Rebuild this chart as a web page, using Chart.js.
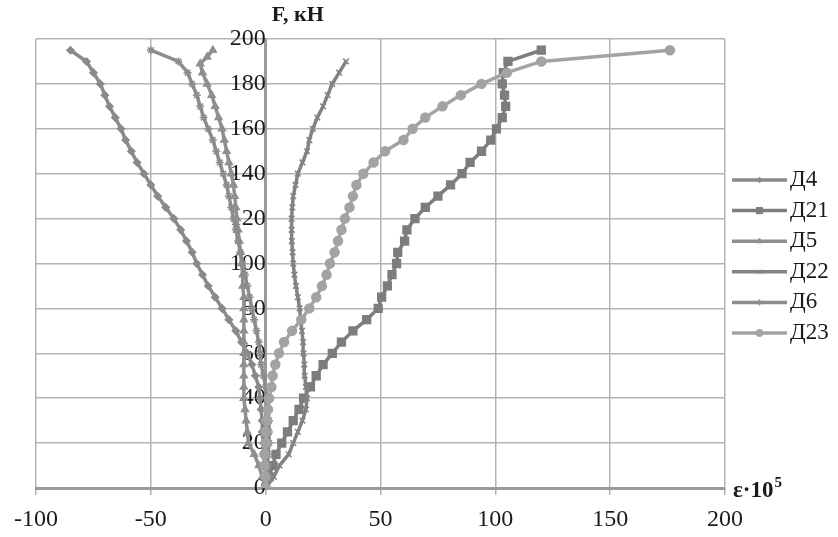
<!DOCTYPE html>
<html><head><meta charset="utf-8">
<script src="https://cdn.jsdelivr.net/npm/chart.js@4/dist/chart.umd.min.js"></script>
<style>html,body{margin:0;padding:0;background:#fff}#wrap{width:838px;height:537px}</style>
</head><body><div id="wrap"><canvas id="c" width="838" height="537"></canvas></div>
<script>
// ---- data (strain ε·10^5 on x, load F, кН on y) ----
const seriesNames = ['Д4', 'Д21', 'Д5', 'Д22', 'Д6', 'Д23'];
const xTickValues = [-100, -50, 0, 50, 100, 150, 200];
const yTickValues = [0, 20, 40, 60, 80, 100, 120, 140, 160, 180, 200];
const yTitle = 'F, кН';
const xTitleMain = 'ε·10';
const xTitleSup = '5';

const loadsFull = [0,5,10,15,20,25,30,35,40,45,50,55,60,65,70,75,80,85,90,95,100,105,110,115,120,125,130,135,140,145,150,155,160,165,170,175,180,185,190,195];
const loadsD22 = [0,5,10,15,20,25,30,35,40,45,50,55,60,65,70,75,80,85,90,95,100,105,110,115,120,125,130,135,140,145,150,155,160,165,170,175,180,185,190];
const loadsD5 = [0,5,10,15,20,25,30,35,40,45,50,55,60,65,70,75,80,85,90,95,100,105,110,115,120,125,130,135,140,145,150,155,160,165,170,175,180,185,189,192,195];

const strainD4 = [0,0,-0.5,-1,-1,-1.5,-1.5,-2,-2.5,-3,-4.5,-6,-8,-10.5,-13,-16,-19,-22,-25,-27.5,-30,-32,-34.5,-37,-40,-43.5,-47,-50,-53,-56,-58.5,-61,-63,-65.5,-68,-70,-72,-75,-78,-85];
const strainD21 = [0,1.5,3,4.5,7,9.5,12,14.5,16.5,19.5,22,25,29,33,38,44,49,50.5,53,55,57,57.5,60.5,61.5,65,69.5,75,80.5,85.5,89,94,98,100.5,103,104.5,104,103,103.5,105.5,120];
const strainD5 = [0,-1.5,-3,-5,-7.5,-8,-8.5,-9,-9.5,-9.5,-9.5,-9.5,-9.5,-9.5,-9.5,-9.5,-9.5,-9.5,-10,-10,-10.5,-11,-11.5,-12,-12.5,-13,-13.5,-14,-15,-16,-17,-18,-19,-20.5,-22,-23.5,-25.5,-27.5,-28.5,-25.5,-23];
const strainD22 = [0,3.5,6,10,12,14,16,17.5,18,17.5,17,16.8,16.5,16.3,15.8,15.2,14.8,14,13.2,12.5,12,11.7,11.4,11.3,11.3,11.6,12,13,14,16,18,19,20.5,22.5,25,27,29,32,35];
const strainD6 = [0,0.5,1,1,1.5,1.5,1.5,1,0.5,0,-1,-2,-2.5,-3,-4,-5,-6,-7,-8,-9,-10,-11,-12,-13,-14,-15,-16,-17,-18.5,-20,-21.5,-23,-25,-27,-28.5,-30,-32,-34,-38,-50];
const strainD23 = [0,0,-0.5,-0.5,0,0,0.5,1,1.5,2.5,3,4.2,5.8,8,11.5,15.5,19,22,24.5,26.5,28,30,31.5,33,34.5,36.5,38,39.5,42.5,47,52,60,64,69.5,77,85,94,105,120,176];

const toPoints = (xs, ys) => xs.map((v, i) => ({x: v, y: ys[i]}));

const styles = [
  {color: '#8a8a8a', pointStyle: 'rectRot', radius: 3.5},
  {color: '#7d7d7d', pointStyle: 'rect', radius: 5.5},
  {color: '#8f8f8f', pointStyle: 'triangle', radius: 4},
  {color: '#838383', pointStyle: 'crossRot', radius: 4},
  {color: '#8c8c8c', pointStyle: 'star', radius: 4},
  {color: '#a3a3a3', pointStyle: 'circle', radius: 4.5}
];
const seriesData = [
  toPoints(strainD4, loadsFull),
  toPoints(strainD21, loadsFull),
  toPoints(strainD5, loadsD5),
  toPoints(strainD22, loadsD22),
  toPoints(strainD6, loadsFull),
  toPoints(strainD23, loadsFull)
];

const datasets = seriesNames.map((name, i) => ({
  label: name,
  data: seriesData[i],
  order: seriesNames.length - i,
  showLine: true,
  borderColor: styles[i].color,
  backgroundColor: styles[i].color,
  pointBackgroundColor: styles[i].color,
  pointBorderColor: styles[i].color,
  pointBorderWidth: 1.5,
  pointStyle: styles[i].pointStyle,
  pointRadius: styles[i].radius,
  pointHoverRadius: styles[i].radius,
  borderWidth: 3.5,
  tension: 0
}));

const FONT = '"Liberation Serif", "Times New Roman", serif';

const axisTitles = {
  id: 'axisTitles',
  afterDraw(chart) {
    const ctx = chart.ctx;
    const xs = chart.scales.x, ys = chart.scales.y;
    ctx.save();
    ctx.fillStyle = '#1a1a1a';
    ctx.textBaseline = 'middle';
    ctx.textAlign = 'left';
    ctx.font = 'bold 22px ' + FONT;
    ctx.fillText(yTitle, xs.getPixelForValue(0) + 6, ys.getPixelForValue(200) - 24);
    const bx = chart.chartArea.right + 8, by = ys.getPixelForValue(0) + 3;
    ctx.font = 'bold 23px ' + FONT;
    ctx.fillText(xTitleMain, bx, by);
    const w = ctx.measureText(xTitleMain).width;
    ctx.font = 'bold 15px ' + FONT;
    ctx.fillText(xTitleSup, bx + w + 1, by - 8);
    ctx.restore();
  }
};

const legendMarkers = {
  id: 'legendMarkers',
  afterDraw(chart) {
    const lg = chart.legend;
    if (!lg || !lg.legendHitBoxes) return;
    const ctx = chart.ctx;
    lg.legendHitBoxes.forEach((hb, i) => {
      const ds = chart.data.datasets[i];
      const y = hb.top + hb.height / 2;
      ctx.save();
      ctx.strokeStyle = ds.borderColor;
      ctx.lineWidth = 3.5;
      ctx.beginPath();
      ctx.moveTo(hb.left, y);
      ctx.lineTo(hb.left + 55, y);
      ctx.stroke();
      ctx.fillStyle = ds.pointBackgroundColor;
      ctx.strokeStyle = ds.pointBorderColor;
      ctx.lineWidth = 1;
      Chart.helpers.drawPoint(ctx, {pointStyle: ds.pointStyle, rotation: 0, radius: ds.pointRadius * 0.8, borderWidth: 1}, hb.left + 27.5, y);
      ctx.restore();
    });
  }
};

new Chart(document.getElementById('c'), {
  type: 'scatter',
  data: {datasets},
  options: {
    responsive: false,
    animation: false,
    devicePixelRatio: 1,
    layout: {padding: {left: 36, top: 39, right: 0, bottom: 0}},
    scales: {
      x: {
        type: 'linear',
        min: -100, max: 200,
        afterBuildTicks: s => { s.ticks = xTickValues.map(v => ({value: v})); },
        afterFit: s => { s.height = 49; },
        grid: {color: '#b3b3b3', lineWidth: 1.5, tickLength: 7, drawTicks: true},
        border: {color: '#9a9a9a', width: 3},
        ticks: {color: '#1a1a1a', font: {family: FONT, size: 24}, padding: 10.6, maxRotation: 0, autoSkip: false}
      },
      y: {
        type: 'linear',
        position: {x: 0},
        min: 0, max: 200,
        afterBuildTicks: s => { s.ticks = yTickValues.map(v => ({value: v})); },
        grid: {color: '#b3b3b3', lineWidth: 1.5, drawTicks: false},
        border: {color: '#9a9a9a', width: 3},
        ticks: {color: '#1a1a1a', font: {family: FONT, size: 24}, padding: 24, autoSkip: false}
      }
    },
    plugins: {
      tooltip: {enabled: false},
      legend: {
        position: 'right',
        align: 'start',
        fullSize: false,
        maxWidth: 113,
        title: {display: true, text: '', font: {size: 10, lineHeight: 1}, padding: {top: 112.2, bottom: 0}},
        labels: {
          font: {family: FONT, size: 23},
          color: '#1a1a1a',
          boxWidth: 46.5,
          boxHeight: 23.6,
          padding: 7,
          generateLabels: chart => chart.data.datasets.map((ds, i) => ({
            text: ds.label, fillStyle: 'rgba(0,0,0,0)', strokeStyle: 'rgba(0,0,0,0)',
            lineWidth: 0, hidden: false, datasetIndex: i, fontColor: '#1a1a1a'
          }))
        }
      }
    }
  },
  plugins: [axisTitles, legendMarkers]
});
</script>
</body></html>
